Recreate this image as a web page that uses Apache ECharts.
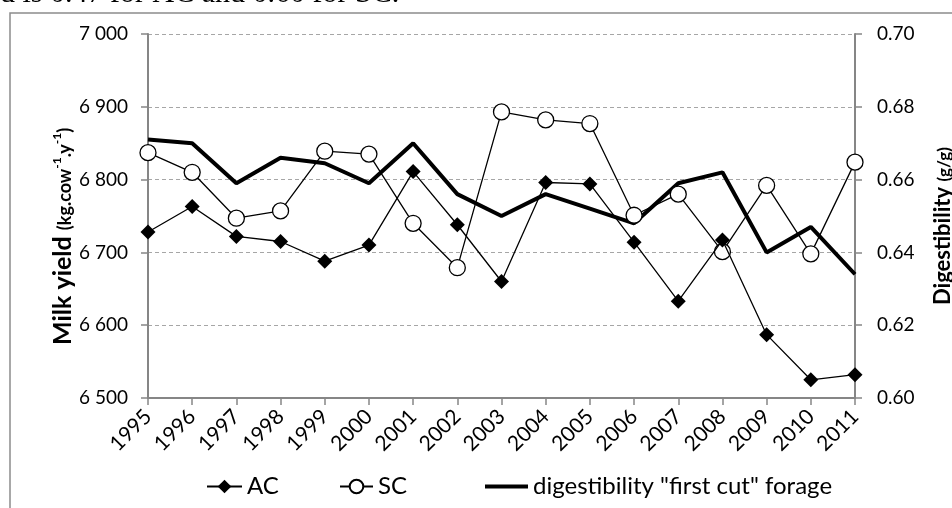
<!DOCTYPE html>
<html>
<head>
<meta charset="utf-8">
<script src="https://cdn.jsdelivr.net/npm/echarts@6/dist/echarts.min.js"></script>
<style>
  html, body { margin: 0; padding: 0; background: #fff; }
  #chart { width: 952px; height: 508px; }
</style>
</head>
<body>
<div id="chart"></div>
<script>
// Years on the category axis
const years = ['1995','1996','1997','1998','1999','2000','2001','2002','2003','2004','2005','2006','2007','2008','2009','2010','2011'];

// Milk yield (kg per cow per year)
const milkAC = [6728, 6763, 6722, 6715, 6688, 6710, 6811, 6738, 6660, 6796, 6794, 6714, 6633, 6717, 6587, 6525, 6532];
const milkSC = [6837, 6810, 6747, 6757, 6839, 6835, 6740, 6679, 6893, 6882, 6877, 6751, 6780, 6701, 6792, 6698, 6824];

// Digestibility of the first-cut forage (g/g)
const digestibility = [0.671, 0.670, 0.659, 0.666, 0.6645, 0.659, 0.670, 0.656, 0.650, 0.656, 0.652, 0.648, 0.659, 0.662, 0.640, 0.647, 0.634];

// Axis ranges
const milkMin = 6500, milkMax = 7000, milkStep = 100;
const digMin = 0.60, digMax = 0.70, digStep = 0.02;

const FONT = 'Lato';
const AXIS_GRAY = '#868686';

function thousands(v) {
  const s = String(Math.round(v));
  return s.replace(/\B(?=(\d{3})+(?!\d))/g, ' ');
}

const legendText = { fontFamily: FONT, fontSize: 24, color: '#000' };

// Rich-text styles for the two rotated axis titles
const leftTitleRich = {
  a: { fontFamily: FONT, fontSize: 25, fontWeight: 'bold', fill: '#000', verticalAlign: 'bottom', lineHeight: 28 },
  b: { fontFamily: FONT, fontSize: 18, fontWeight: 'bold', fill: '#000', verticalAlign: 'bottom', lineHeight: 28, padding: [0, 0, 1, 0] },
  s: { fontFamily: FONT, fontSize: 12, fontWeight: 'bold', fill: '#000', verticalAlign: 'top', lineHeight: 28, padding: [4, 0, 0, 0] }
};
const rightTitleRich = {
  a: { fontFamily: FONT, fontSize: 22, fontWeight: 'bold', fill: '#000', verticalAlign: 'bottom', lineHeight: 26 },
  b: { fontFamily: FONT, fontSize: 17, fontWeight: 'bold', fill: '#000', verticalAlign: 'bottom', lineHeight: 26, padding: [0, 0, 1, 0] }
};

const chart = echarts.init(document.getElementById('chart'), null, { renderer: 'canvas' });

chart.setOption({
  animation: false,
  backgroundColor: '#fff',
  textStyle: { fontFamily: FONT },
  grid: { left: 148, right: 97, top: 34, bottom: 110, containLabel: false, outerBoundsMode: 'none' },
  graphic: [
    {
      type: 'text',
      x: 0, y: 9,
      style: {
        text: 'd is 0.47 for AC and 0.60 for SC.',
        font: '30px "Liberation Serif", "Times New Roman", serif',
        fill: '#000',
        align: 'left',
        verticalAlign: 'bottom'
      },
      z: 10
    },
    {
      type: 'rect',
      shape: { x: 10, y: 13, width: 1000, height: 600 },
      style: { fill: 'none', stroke: '#8c8c8c', lineWidth: 1.5 },
      silent: true,
      z: -1
    },
    {
      // Left axis title, reading bottom to top
      type: 'text',
      x: 61, y: 345,
      rotation: Math.PI / 2,
      style: {
        text: '{a|Milk yield }{b|(kg.cow}{s|-1}{b|.y}{s|-1}{b|)}',
        rich: leftTitleRich,
        align: 'left',
        verticalAlign: 'middle'
      },
      z: 10
    },
    {
      // Right axis title, reading bottom to top
      type: 'text',
      x: 941, y: 305,
      rotation: Math.PI / 2,
      style: {
        text: '{a|Digestibility }{b|(g/g)}',
        rich: rightTitleRich,
        align: 'left',
        verticalAlign: 'middle'
      },
      z: 10
    }
  ],
  legend: [
    {
      left: 206, top: 474.5, padding: 0,
      itemWidth: 35, itemHeight: 17, itemGap: 4,
      textStyle: legendText,
      data: ['AC']
    },
    {
      left: 339, top: 474.5, padding: 0,
      itemWidth: 33, itemHeight: 17, itemGap: 3,
      textStyle: legendText,
      data: ['SC']
    },
    {
      left: 485, top: 474.5, padding: 0,
      itemWidth: 43, itemHeight: 4, itemGap: 2,
      textStyle: legendText,
      data: [{ name: 'digestibility "first cut" forage', icon: 'rect', itemStyle: { color: '#000' } }]
    }
  ],
  xAxis: {
    type: 'category',
    data: years,
    boundaryGap: false,
    axisLine: { lineStyle: { color: AXIS_GRAY, width: 2 } },
    axisTick: { show: true, alignWithLabel: true, length: 7, lineStyle: { color: AXIS_GRAY, width: 1.5 } },
    axisLabel: { rotate: 45, fontFamily: FONT, fontSize: 21, color: '#000', margin: 15, interval: 0 },
    splitLine: { show: false }
  },
  yAxis: [
    {
      type: 'value',
      min: milkMin, max: milkMax, interval: milkStep,
      position: 'left',
      axisLine: { show: true, lineStyle: { color: AXIS_GRAY, width: 2 } },
      axisTick: { show: true, length: 7, lineStyle: { color: AXIS_GRAY, width: 1.5 } },
      axisLabel: { fontFamily: FONT, fontSize: 19, color: '#000', margin: 20, formatter: thousands },
      splitLine: { show: true, lineStyle: { color: '#a6a6a6', type: [4, 3], width: 1 } }
    },
    {
      type: 'value',
      min: digMin, max: digMax, interval: digStep,
      position: 'right',
      axisLine: { show: true, lineStyle: { color: AXIS_GRAY, width: 2 } },
      axisTick: { show: true, length: 7, lineStyle: { color: AXIS_GRAY, width: 1.5 } },
      axisLabel: { fontFamily: FONT, fontSize: 19, color: '#000', margin: 22, formatter: v => v.toFixed(2) },
      splitLine: { show: false }
    }
  ],
  series: [
    {
      name: 'digestibility "first cut" forage',
      type: 'line',
      yAxisIndex: 1,
      data: digestibility,
      symbol: 'none',
      lineStyle: { color: '#000', width: 4 },
      itemStyle: { color: '#000' },
      z: 2
    },
    {
      name: 'SC',
      type: 'line',
      yAxisIndex: 0,
      data: milkSC,
      symbol: 'circle',
      symbolSize: 16,
      lineStyle: { color: '#000', width: 1.3 },
      itemStyle: { color: '#fff', borderColor: '#000', borderWidth: 1.3 },
      z: 3
    },
    {
      name: 'AC',
      type: 'line',
      yAxisIndex: 0,
      data: milkAC,
      symbol: 'diamond',
      symbolSize: 15,
      lineStyle: { color: '#000', width: 1.3 },
      itemStyle: { color: '#000' },
      z: 4
    }
  ]
});
</script>
</body>
</html>
